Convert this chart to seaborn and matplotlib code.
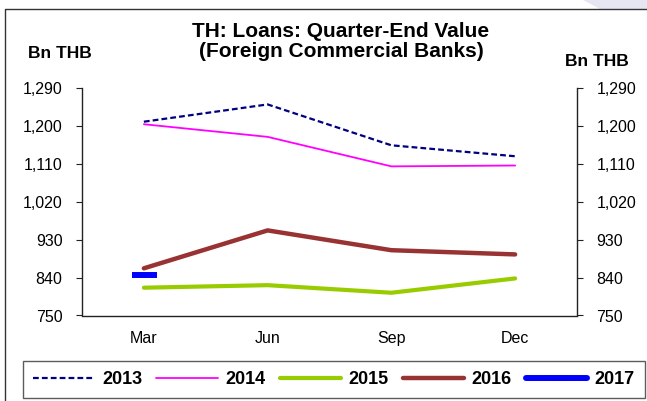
import matplotlib
matplotlib.use("Agg")
import matplotlib.pyplot as plt
from matplotlib.lines import Line2D
from matplotlib.patches import Polygon
import seaborn as sns
import numpy as np

sns.set_style("white")
plt.rcParams["font.family"] = ["Liberation Sans", "DejaVu Sans"]
plt.rcParams["text.color"] = "#000000"
plt.rcParams["xtick.color"] = "#000000"
plt.rcParams["ytick.color"] = "#000000"

# Quarter-end loan values, Bn THB
quarters = ["Mar", "Jun", "Sep", "Dec"]
y2013 = [1210, 1251, 1154, 1128]
y2014 = [1204, 1174, 1104, 1106]
y2015 = [816, 822, 804, 838]
y2016 = [862, 952, 905, 895]
y2017 = [846]
y_ticks = [750, 840, 930, 1020, 1110, 1200, 1290]

W, H = 647, 401
fig = plt.figure(figsize=(W / 100, H / 100), dpi=100)

def fx(px):
    return px / W

def fy(py):
    return 1 - py / H

ax = fig.add_axes([fx(82), fy(315.5), fx(577) - fx(82), fy(88) - fy(315.5)])

pos = np.arange(len(quarters))
series = [
    ("2013", y2013, dict(color="#000080", lw=1.6, dashes=(2.6, 1.4))),
    ("2014", y2014, dict(color="#FF00FF", lw=1.3)),
    ("2015", y2015, dict(color="#99CC00", lw=3.0)),
    ("2016", y2016, dict(color="#993333", lw=3.2)),
]
for name, vals, style in series:
    dashes = style.pop("dashes", None)
    sns.lineplot(x=pos[: len(vals)], y=vals, ax=ax, label=name,
                 solid_capstyle="round", **style)
    if dashes is not None:
        ax.lines[-1].set_dashes(dashes)

sns.lineplot(x=pos[: len(y2017)], y=y2017, ax=ax, label="2017", color="#0000FF",
             lw=4.3, marker="_", markersize=18, markeredgewidth=4.3,
             markeredgecolor="#0000FF", markerfacecolor="#0000FF",
             solid_capstyle="round")

ax.set_xlim(-0.5, len(quarters) - 0.5)
ax.set_ylim(y_ticks[0], y_ticks[-1])
ax.set_xticks(pos)
ax.set_xticklabels(quarters)
ax.set_xticks(np.arange(-0.5, len(quarters), 1.0), minor=True)
ax.set_yticks(y_ticks)
ax.set_yticklabels([f"{v:,}" for v in y_ticks])
ax.set_xlabel("")
ax.set_ylabel("")

for side in ["top", "right", "left", "bottom"]:
    ax.spines[side].set_visible(side in ("left", "bottom"))
    ax.spines[side].set_color("#222222")
    ax.spines[side].set_linewidth(1.0)

ax.tick_params(axis="x", which="major", length=0, pad=11, labelsize=11.5, labelcolor="#000000")
ax.tick_params(axis="x", which="minor", length=4, width=0.8, color="#222222", direction="out")
ax.tick_params(axis="y", which="major", length=4, width=0.8, pad=10, labelsize=11.5,
               color="#222222", labelcolor="#000000", direction="out", left=True)

ax2 = ax.twinx()
ax2.set_ylim(ax.get_ylim())
ax2.set_yticks(y_ticks)
ax2.set_yticklabels([f"{v:,}" for v in y_ticks])
for side in ["top", "left", "bottom"]:
    ax2.spines[side].set_visible(False)
ax2.spines["right"].set_visible(True)
ax2.spines["right"].set_color("#222222")
ax2.spines["right"].set_linewidth(1.0)
ax2.tick_params(axis="y", which="major", length=4, width=0.8, pad=10, labelsize=11.5,
                color="#222222", labelcolor="#000000", direction="out", right=True)
ax2.grid(False)
ax.grid(False)

handles, labels = ax.get_legend_handles_labels()
ax.get_legend().remove()
leg = fig.legend(handles, labels, loc="center", bbox_to_anchor=(fx(334), fy(379.5)),
                 ncol=5, frameon=True, fancybox=False, handlelength=3.4,
                 handletextpad=0.4, columnspacing=0.8, borderpad=0.55,
                 prop=dict(weight="bold", size=13))
leg.get_frame().set_edgecolor("#333333")
leg.get_frame().set_linewidth(1.0)

fig.text(fx(341), fy(41.5), "TH: Loans: Quarter-End Value\n(Foreign Commercial Banks)",
         ha="center", va="center", fontsize=15, fontweight="bold", linespacing=1.1)
fig.text(fx(28), fy(53), "Bn THB", ha="left", va="center", fontsize=12.5, fontweight="bold")
fig.text(fx(565), fy(61), "Bn THB", ha="left", va="center", fontsize=12.5, fontweight="bold")

# outer frame and corner decoration
fig.add_artist(Line2D([fx(5), fx(5), fx(647)], [fy(401), fy(9), fy(9)],
                      transform=fig.transFigure, color="#333333", lw=1.0))
fig.add_artist(Polygon([(fx(583), fy(0)), (fx(647), fy(0)), (fx(647), fy(8.5)), (fx(600), fy(8.5))],
                       closed=True, transform=fig.transFigure, facecolor="#E6E6F2",
                       edgecolor="none"))

fig.savefig("out.png", dpi=100)
